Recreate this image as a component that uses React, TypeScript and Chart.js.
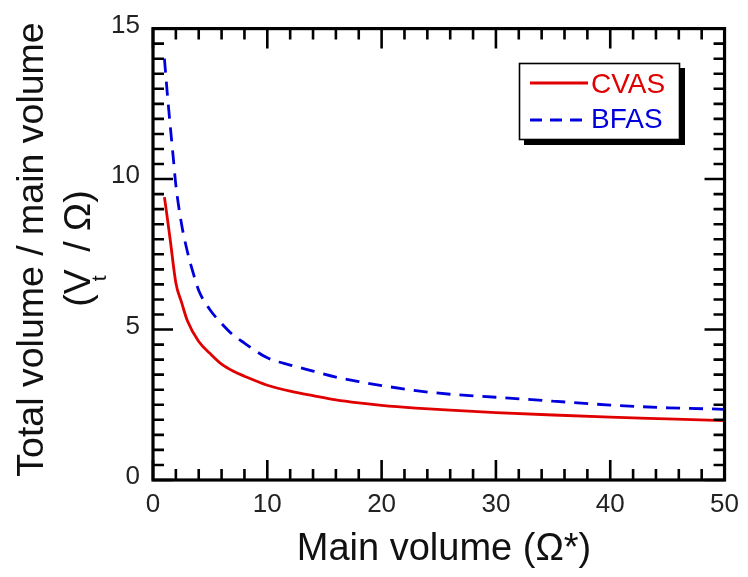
import { useEffect, useRef } from "react";
import { Chart, registerables } from "chart.js";

Chart.register(...registerables);

// ---- data ----
const xCvas = [1, 1.2, 1.5, 2, 2.5, 3, 4, 5, 6, 7, 8, 10, 12, 14, 16, 18, 20, 23, 26, 30, 35, 40, 45, 50];
const yCvas = [9.4, 8.85, 8.0, 6.55, 5.9, 5.3, 4.6, 4.2, 3.85, 3.62, 3.45, 3.15, 2.95, 2.8, 2.66, 2.56, 2.48, 2.39, 2.32, 2.24, 2.16, 2.09, 2.03, 1.97];
const xBfas = [1, 1.25, 1.5, 1.75, 2, 2.5, 3, 3.5, 4, 5, 6, 7, 8, 10, 12, 14, 16, 18, 20, 23, 26, 30, 35, 40, 45, 50];
const yBfas = [14.0, 12.85, 11.8, 10.8, 9.8, 8.5, 7.6, 6.9, 6.3, 5.65, 5.2, 4.82, 4.55, 4.06, 3.82, 3.62, 3.42, 3.27, 3.14, 2.97, 2.85, 2.75, 2.62, 2.49, 2.4, 2.35];
const seriesNames = ["CVAS", "BFAS"];
const seriesColors = ["#e00000", "#0000dd"];
const xRange = [0, 50];
const yRange = [0, 15];
const xMajorStep = 10;
const xMinorStep = 2;
const yMajorStep = 5;
const yMinorStep = 0.5;
const xTitle = "Main volume (\u03A9*)";
const yTitleLine1 = "Total volume / main volume";
const yTitleLine2a = "(V";
const yTitleSub = "t";
const yTitleLine2b = " / \u03A9)";

const FONT = "'Liberation Sans', Arial, Helvetica, sans-serif";

const framePlugin = {
  id: "framePlugin",
  afterDatasetsDraw(chart: any) {
    const { ctx, chartArea, scales } = chart;
    const { left, right, top, bottom } = chartArea;
    const xs = scales.x;
    const ys = scales.y;
    ctx.save();
    ctx.strokeStyle = "#000";
    ctx.lineCap = "butt";
    // ticks
    ctx.lineWidth = 2.6;
    const nx = Math.round((xRange[1] - xRange[0]) / xMinorStep);
    for (let i = 0; i <= nx; i++) {
      const v = xRange[0] + i * xMinorStep;
      const px = xs.getPixelForValue(v);
      const major = Math.abs(v / xMajorStep - Math.round(v / xMajorStep)) < 1e-6;
      const len = major ? 20 : 11;
      ctx.beginPath();
      ctx.moveTo(px, bottom);
      ctx.lineTo(px, bottom - len);
      ctx.moveTo(px, top);
      ctx.lineTo(px, top + len);
      ctx.stroke();
    }
    const ny = Math.round((yRange[1] - yRange[0]) / yMinorStep);
    for (let i = 0; i <= ny; i++) {
      const v = yRange[0] + i * yMinorStep;
      const py = ys.getPixelForValue(v);
      const major = Math.abs(v / yMajorStep - Math.round(v / yMajorStep)) < 1e-6;
      const len = major ? 20 : 11;
      ctx.beginPath();
      ctx.moveTo(left, py);
      ctx.lineTo(left + len, py);
      ctx.moveTo(right, py);
      ctx.lineTo(right - len, py);
      ctx.stroke();
    }
    // frame
    ctx.lineWidth = 3.2;
    ctx.strokeRect(left, top, right - left, bottom - top);
    ctx.restore();

    // legend
    ctx.save();
    const bx = 519, by = 63, bw = 161, bh = 77;
    ctx.fillStyle = "#000";
    ctx.fillRect(bx + 5, by + 5, bw, bh);
    ctx.fillStyle = "#fff";
    ctx.fillRect(bx, by, bw, bh);
    ctx.lineWidth = 1.6;
    ctx.strokeStyle = "#000";
    ctx.strokeRect(bx + 0.5, by + 0.5, bw - 1, bh - 1);
    const rows = [83, 120];
    const baselines = [93, 128];
    chart.data.datasets.forEach((ds: any, i: number) => {
      ctx.strokeStyle = ds.borderColor;
      ctx.lineWidth = 2.8;
      ctx.setLineDash(ds.borderDash ? [12, 8] : []);
      ctx.beginPath();
      ctx.moveTo(530, rows[i]);
      ctx.lineTo(588, rows[i]);
      ctx.stroke();
      ctx.setLineDash([]);
      ctx.fillStyle = ds.borderColor;
      ctx.font = `28px ${FONT}`;
      ctx.textAlign = "left";
      ctx.textBaseline = "alphabetic";
      ctx.fillText(ds.label, 591, baselines[i]);
    });
    ctx.restore();

    // axis titles
    ctx.save();
    ctx.fillStyle = "#111";
    ctx.font = `38px ${FONT}`;
    ctx.textAlign = "center";
    ctx.textBaseline = "alphabetic";
    ctx.fillText(xTitle, 444, 560);

    ctx.save();
    ctx.font = `37.5px ${FONT}`;
    ctx.translate(43, 249.5);
    ctx.rotate(-Math.PI / 2);
    ctx.fillText(yTitleLine1, 0, 0);
    ctx.restore();

    ctx.save();
    ctx.translate(90, 248.5);
    ctx.rotate(-Math.PI / 2);
    ctx.textAlign = "left";
    ctx.font = `37.5px ${FONT}`;
    const w1 = ctx.measureText(yTitleLine2a).width;
    const w3 = ctx.measureText(yTitleLine2b).width;
    const tAdv = 7;
    const total = w1 + tAdv + w3;
    const start = -total / 2;
    ctx.fillText(yTitleLine2a, start, 0);
    ctx.fillText(yTitleLine2b, start + w1 + tAdv, 0);
    ctx.font = `21px ${FONT}`;
    ctx.fillText(yTitleSub, start + w1 - 12, 16);
    ctx.restore();
    ctx.restore();
  },
};

export default function App() {
  const ref = useRef<HTMLCanvasElement | null>(null);
  useEffect(() => {
    if (!ref.current) return;
    const chart = new Chart(ref.current, {
      type: "line",
      data: {
        datasets: [
          {
            label: seriesNames[0],
            data: xCvas.map((x, i) => ({ x, y: yCvas[i] })),
            borderColor: seriesColors[0],
            backgroundColor: seriesColors[0],
            borderWidth: 2.8,
            pointRadius: 0,
            tension: 0.3,
            cubicInterpolationMode: "monotone",
            fill: false,
          },
          {
            label: seriesNames[1],
            data: xBfas.map((x, i) => ({ x, y: yBfas[i] })),
            borderColor: seriesColors[1],
            backgroundColor: seriesColors[1],
            borderWidth: 2.8,
            borderDash: [14, 9],
            pointRadius: 0,
            tension: 0.3,
            cubicInterpolationMode: "monotone",
            fill: false,
          },
        ],
      },
      options: {
        animation: false,
        responsive: false,
        devicePixelRatio: 1,
        layout: { padding: { left: 0, right: 19, top: 18, bottom: 0 } },
        plugins: { legend: { display: false }, tooltip: { enabled: false } },
        scales: {
          x: {
            type: "linear",
            min: xRange[0],
            max: xRange[1],
            grid: { display: false, drawTicks: false },
            border: { display: false },
            ticks: {
              stepSize: xMajorStep,
              color: "#222",
              font: { family: FONT, size: 26 },
              padding: 9,
              maxRotation: 0,
            },
            afterFit: (s: any) => {
              s.height = 97;
            },
          },
          y: {
            type: "linear",
            min: yRange[0],
            max: yRange[1],
            grid: { display: false, drawTicks: false },
            border: { display: false },
            ticks: {
              stepSize: yMajorStep,
              color: "#222",
              font: { family: FONT, size: 26 },
              padding: 13,
              labelOffset: -3,
            },
            afterFit: (s: any) => {
              s.width = 153;
            },
          },
        },
      },
      plugins: [framePlugin],
    } as any);
    return () => chart.destroy();
  }, []);
  return (
    <div style={{ position: "fixed", left: 0, top: 0, width: 748, height: 577, background: "#fff" }}>
      <canvas ref={ref} width={748} height={577} style={{ display: "block" }} />
    </div>
  );
}
